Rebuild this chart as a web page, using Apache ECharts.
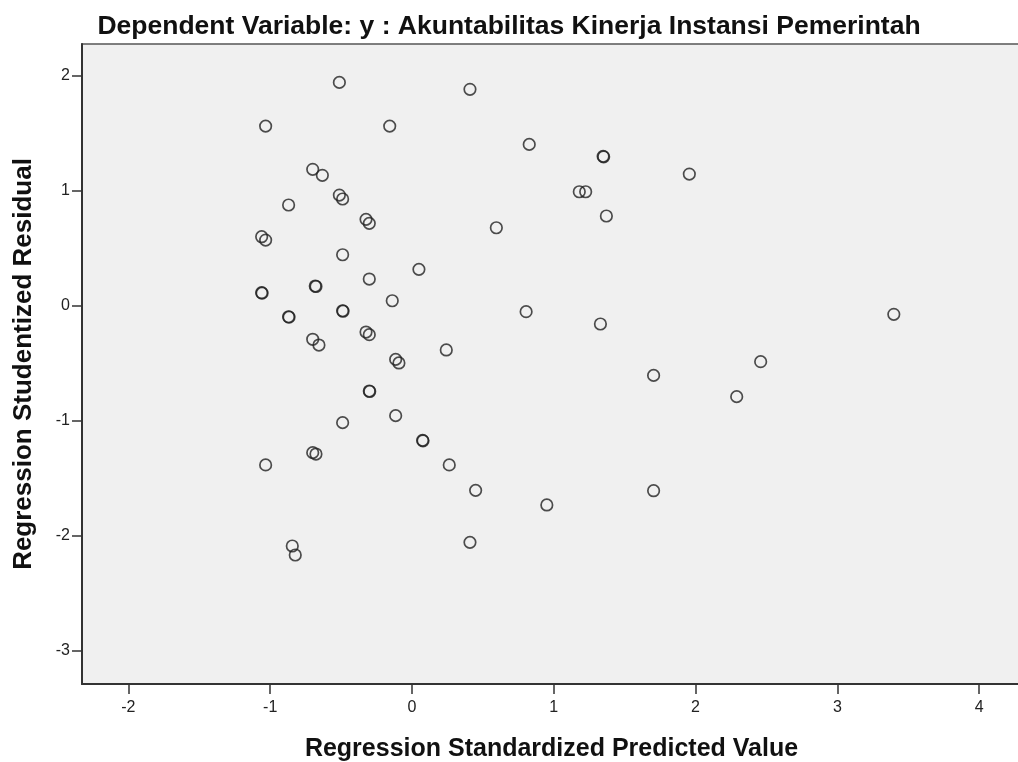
<!DOCTYPE html>
<html>
<head>
<meta charset="utf-8">
<script src="https://cdn.jsdelivr.net/npm/echarts@6/dist/echarts.min.js"></script>
<style>
  html, body { margin: 0; padding: 0; background: #fff; }
  #chart { width: 1018px; height: 762px; }
</style>
</head>
<body>
<div id="chart"></div>
<script>
var myChart = echarts.init(document.getElementById('chart'));

// Regression Standardized Predicted Value
var predicted = [
    -0.512, -1.032, -0.157, -0.700, -0.632, -0.512, -0.489, -0.870, -0.324, -0.301,
    -1.060, -1.032, -0.489, 0.049, -0.301, -0.682, -0.677, -1.060, -1.057, -0.139,
    -0.489, -0.486, -0.870, -0.867, -0.324, -0.301, -0.700, -0.656, 0.242, -0.115,
    -0.092, -0.301, -0.298, -0.115, -0.489, 0.075, 0.078, -0.700, -0.677, -1.032,
    0.263, -0.844, -0.823, 0.409, 0.827, 1.348, 1.352, 1.956, 1.180, 1.225,
    1.371, 0.595, 0.805, 1.329, 3.398, 2.459, 1.704, 2.290, 0.449, 0.951,
    1.704, 0.409
];
// Regression Studentized Residual
var residual = [
    1.943, 1.563, 1.563, 1.187, 1.135, 0.963, 0.929, 0.877, 0.752, 0.717,
    0.601, 0.572, 0.444, 0.317, 0.233, 0.172, 0.168, 0.114, 0.110, 0.044,
    -0.043, -0.047, -0.095, -0.099, -0.228, -0.251, -0.291, -0.341, -0.384, -0.466,
    -0.497, -0.741, -0.745, -0.955, -1.016, -1.170, -1.174, -1.277, -1.289, -1.384,
    -1.384, -2.089, -2.167, 1.883, 1.404, 1.300, 1.296, 1.146, 0.992, 0.992,
    0.781, 0.679, -0.051, -0.158, -0.074, -0.486, -0.605, -0.790, -1.605, -1.732,
    -1.608, -2.057
];
var xTicks = [-2, -1, 0, 1, 2, 3, 4];
var yTicks = [-3, -2, -1, 0, 1, 2];

var points = predicted.map(function (v, i) { return [v, residual[i]]; });

var option = {
    backgroundColor: '#FFF',
    animation: false,
    title: {
        text: 'Dependent Variable: y : Akuntabilitas Kinerja Instansi Pemerintah',
        left: 'center',
        top: 8,
        textStyle: {
            fontFamily: 'Liberation Sans',
            fontSize: 26.5,
            fontWeight: 'bold',
            color: '#111'
        }
    },
    grid: {
        left: 82,
        top: 44,
        right: -3,
        bottom: 78,
        outerBoundsMode: 'none',
        containLabel: false,
        show: true,
        backgroundColor: '#F0F0F0',
        borderColor: '#555',
        borderWidth: 1.5
    },
    xAxis: {
        type: 'value',
        min: -2.327,
        max: 4.295,
        name: 'Regression Standardized Predicted Value',
        nameLocation: 'middle',
        nameGap: 53,
        nameTextStyle: {
            fontFamily: 'Liberation Sans',
            fontSize: 25,
            fontWeight: 'bold',
            color: '#111'
        },
        splitLine: { show: false },
        axisLine: { onZero: false, lineStyle: { color: '#333', width: 2 } },
        axisTick: {
            length: 10,
            customValues: xTicks,
            lineStyle: { color: '#333', width: 1.5 }
        },
        axisLabel: {
            customValues: xTicks,
            margin: 16,
            fontFamily: 'Liberation Sans',
            fontSize: 16,
            color: '#222'
        }
    },
    yAxis: {
        type: 'value',
        min: -3.289,
        max: 2.277,
        name: 'Regression Studentized Residual',
        nameLocation: 'middle',
        nameGap: 45,
        nameTextStyle: {
            fontFamily: 'Liberation Sans',
            fontSize: 26,
            fontWeight: 'bold',
            color: '#111'
        },
        splitLine: { show: false },
        axisLine: { onZero: false, lineStyle: { color: '#333', width: 2 } },
        axisTick: {
            length: 10,
            customValues: yTicks,
            lineStyle: { color: '#333', width: 1.5 }
        },
        axisLabel: {
            customValues: yTicks,
            margin: 12,
            fontFamily: 'Liberation Sans',
            fontSize: 16,
            color: '#222'
        }
    },
    series: [
        {
            type: 'scatter',
            data: points,
            symbol: 'circle',
            symbolSize: 11.5,
            itemStyle: {
                color: 'rgba(0,0,0,0)',
                borderColor: '#222',
                borderWidth: 1.7
            },
            emphasis: { disabled: true }
        }
    ]
};

myChart.setOption(option);
</script>
</body>
</html>
